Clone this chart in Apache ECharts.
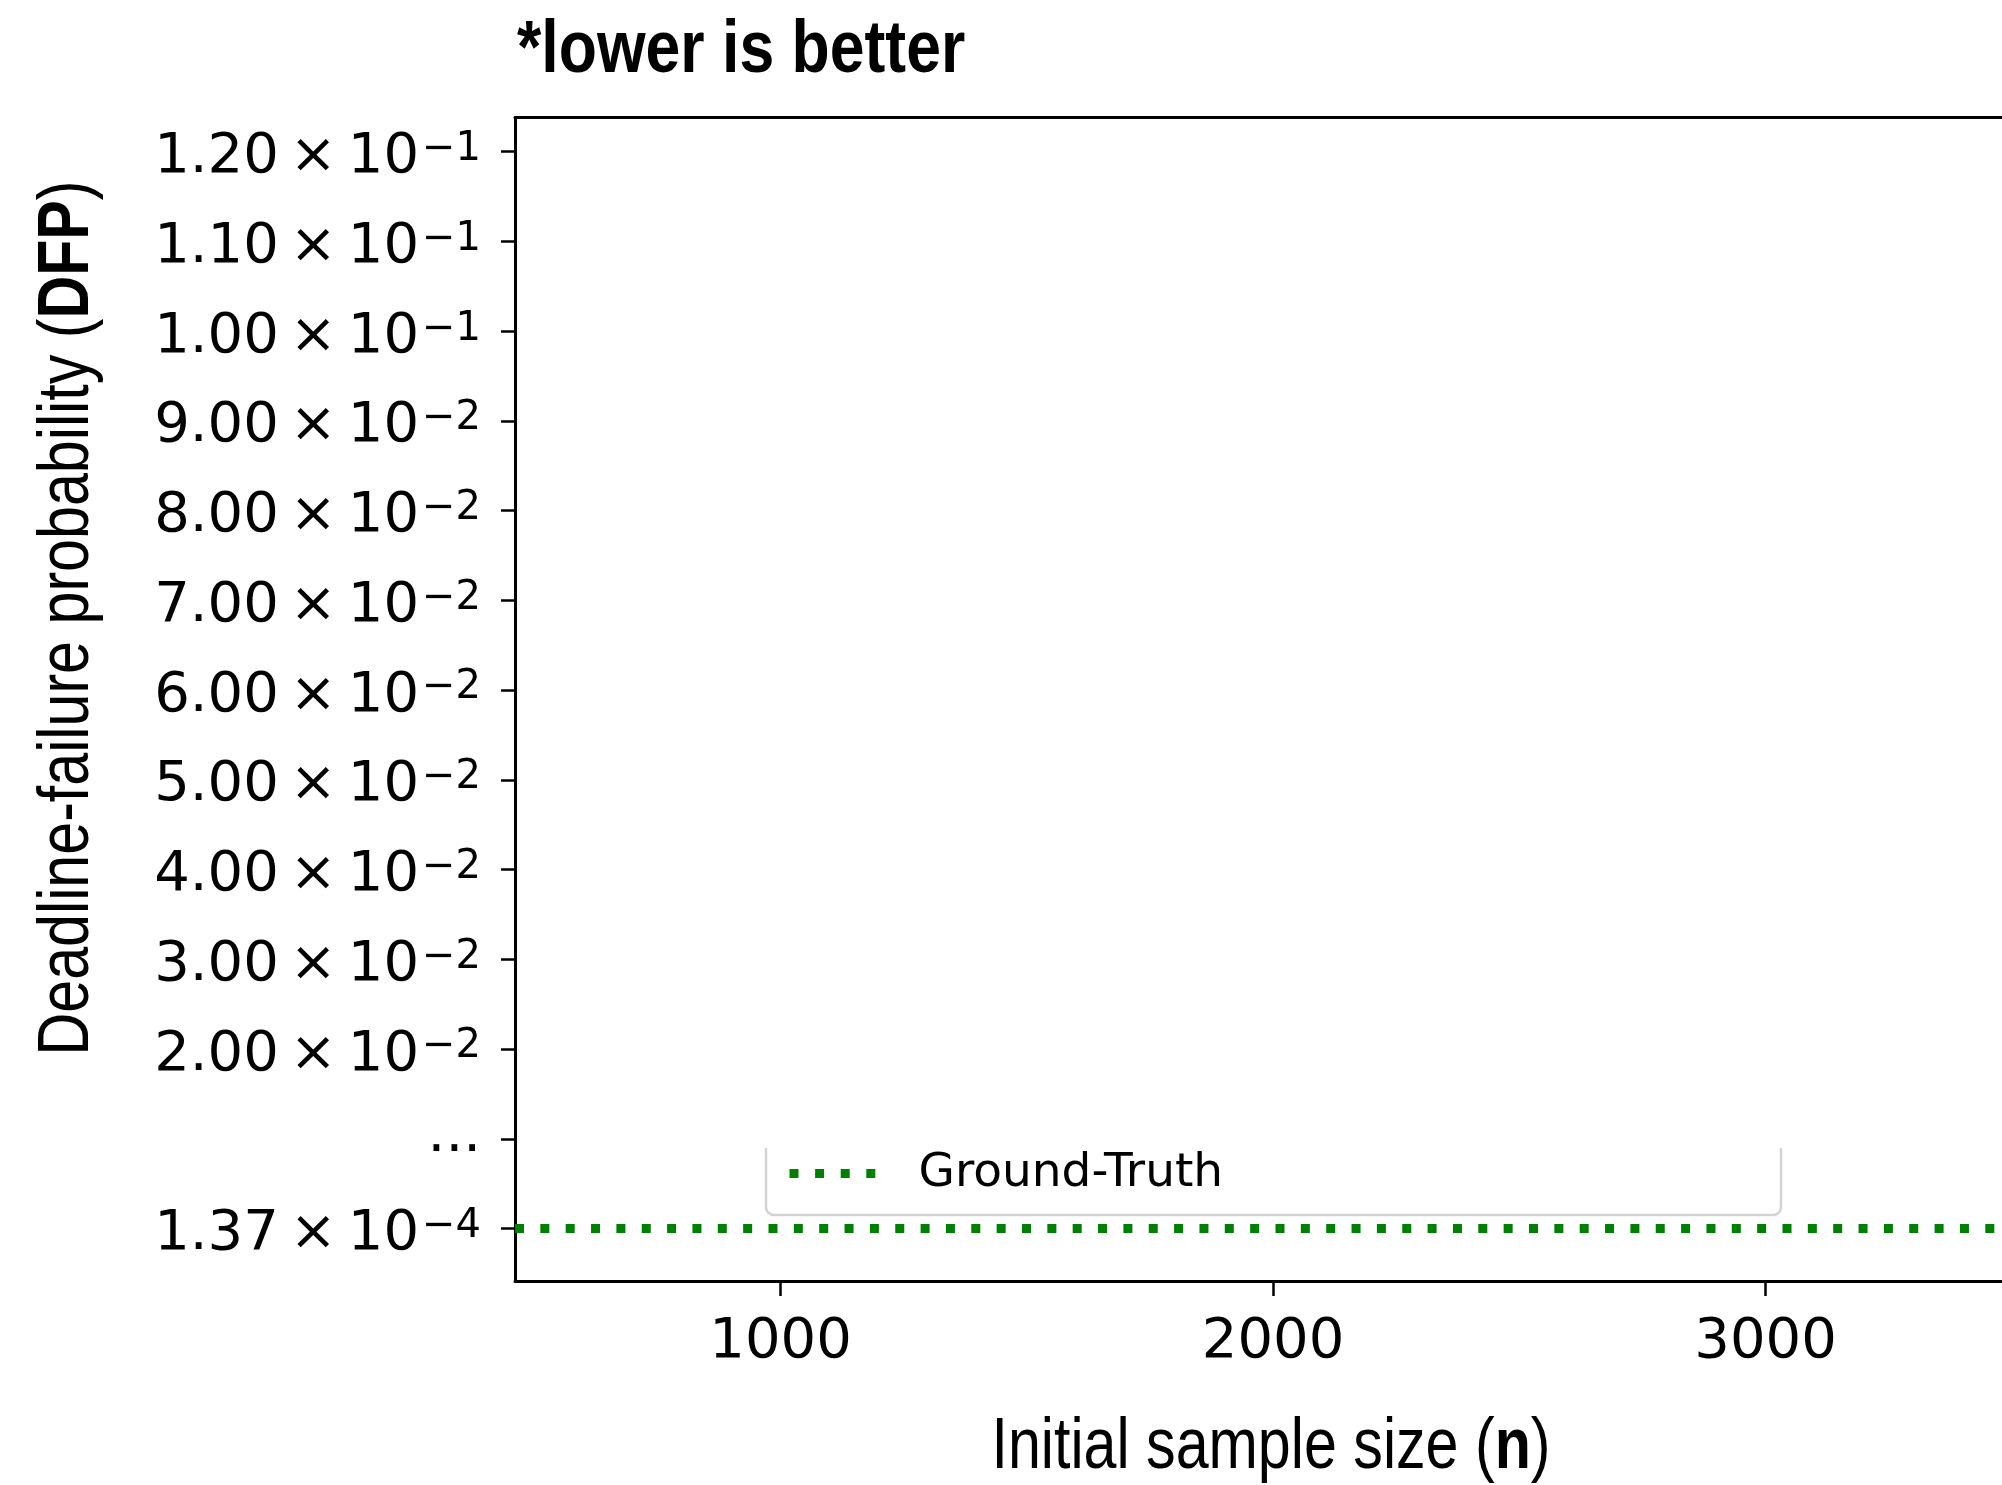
<!DOCTYPE html>
<html>
<head>
<meta charset="utf-8">
<title>Deadline-failure probability vs. initial sample size</title>
<script src="https://cdn.jsdelivr.net/npm/echarts@6/dist/echarts.min.js"></script>
<style>
  html, body { margin: 0; padding: 0; background: #fff; }
  #chart { width: 2002px; height: 1485px; }
</style>
</head>
<body>
<div id="chart"></div>
<script>
// ---- data -------------------------------------------------------------
// Tick values of the (broken) DFP axis, bottom to top; null marks the break.
const yTickValues = [1.37e-4, null, 0.02, 0.03, 0.04, 0.05, 0.06, 0.07, 0.08, 0.09, 0.10, 0.11, 0.12];
// Sample-size ticks on the x axis.
const xTickValues = [1000, 2000, 3000];
// Visible sample-size range.
const xRange = [460.8, 3480];
// Ground-truth deadline-failure probability.
const groundTruth = 1.37e-4;
const seriesNames = ['Ground-Truth'];

// ---- broken-axis mapping ---------------------------------------------
// Each tick occupies one evenly spaced slot; the upper segment is linear
// between 0.02 and 0.12, the lower segment holds the ground-truth level.
function toSlot(v) {
  if (v >= 0.02) return 2 + (v - 0.02) / 0.01;
  const i = yTickValues.indexOf(v);
  return i >= 0 ? i : 0;
}
const ySlots = yTickValues.map((v, i) => i);

function sciLabel(v) {
  const e = Math.floor(Math.log10(v) + 1e-12);
  const m = (v / Math.pow(10, e)).toFixed(2);
  return '{m|' + m + '}{x|\u00d7}{m|10}{s|\u2212' + Math.abs(e) + '}';
}

const tickFont = 'DejaVu Sans';
const titleFont = "'Liberation Sans', Arial, sans-serif";
const narrow = 0.822;   // horizontal squeeze for the condensed title lettering

const spine = { show: true, onZero: false, lineStyle: { color: '#000', width: 3 } };

const chart = echarts.init(document.getElementById('chart'), null, { renderer: 'canvas' });

chart.setOption({
  animation: false,
  backgroundColor: '#ffffff',
  grid: {
    left: 515,
    top: 117.5,
    right: 0,
    bottom: 204,
    show: false
  },
  legend: {
    data: seriesNames,
    left: 785,
    top: 1150,
    padding: 0,
    itemWidth: 86,
    itemHeight: 9,
    selectedMode: false,
    itemStyle: { opacity: 0 },
    lineStyle: { color: '#008000', width: 9, type: [9, 16.6], cap: 'butt' },
    textStyle: {
      fontFamily: tickFont,
      fontSize: 47,
      color: '#000',
      padding: [0, 0, 0, 38]
    }
  },
  xAxis: [{
    type: 'value',
    position: 'bottom',
    min: xRange[0],
    max: xRange[1],
    splitLine: { show: false },
    axisLine: spine,
    axisTick: {
      show: true, inside: false, length: 15,
      customValues: xTickValues,
      lineStyle: { color: '#000', width: 2.5 }
    },
    axisLabel: {
      customValues: xTickValues,
      margin: 33,
      fontFamily: tickFont,
      fontSize: 56,
      lineHeight: 56,
      color: '#000',
      formatter: v => String(v)
    }
  }, {
    // top spine
    type: 'value',
    position: 'top',
    min: xRange[0],
    max: xRange[1],
    splitLine: { show: false },
    axisLine: spine,
    axisTick: { show: false },
    axisLabel: { show: false }
  }],
  yAxis: {
    type: 'value',
    min: -0.585,
    max: 12.381,
    splitLine: { show: false },
    axisLine: spine,
    axisTick: {
      show: true, inside: false, length: 14,
      customValues: ySlots,
      lineStyle: { color: '#000', width: 2.5 }
    },
    axisLabel: {
      customValues: ySlots,
      margin: 34,
      padding: [12, 0, 0, 0],
      color: '#000',
      formatter: function (slot) {
        const v = yTickValues[Math.round(slot)];
        if (v === null || v === undefined) return '{d|...}';
        return sciLabel(v);
      },
      rich: {
        m: { fontFamily: tickFont, fontSize: 56, lineHeight: 56, color: '#000' },
        x: { fontFamily: tickFont, fontSize: 56, lineHeight: 56, color: '#000', padding: [0, 11, 0, 11] },
        s: { fontFamily: tickFont, fontSize: 40, lineHeight: 24, color: '#000', verticalAlign: 'top', padding: [0, 0, 0, 3] },
        d: { fontFamily: tickFont, fontSize: 56, lineHeight: 56, color: '#000', padding: [0, 0, 16, 0] }
      }
    }
  },
  series: [{
    name: seriesNames[0],
    type: 'line',
    data: [],
    symbol: 'none',
    color: '#008000',
    lineStyle: { color: '#008000', width: 9, type: [9, 16.35], cap: 'butt' },
    markLine: {
      silent: true,
      symbol: ['none', 'none'],
      label: { show: false },
      lineStyle: { color: '#008000', width: 9, type: [9, 16.35], cap: 'butt' },
      emphasis: { disabled: true },
      data: [{ yAxis: toSlot(groundTruth) }]
    }
  }],
  graphic: [
    // legend frame, open at the top
    { type: 'line', silent: true, shape: { x1: 766, y1: 1148, x2: 766, y2: 1207 },
      style: { stroke: '#d3d3d3', lineWidth: 2.5 } },
    { type: 'arc', silent: true, shape: { cx: 774, cy: 1207, r: 8, startAngle: Math.PI / 2, endAngle: Math.PI },
      style: { stroke: '#d3d3d3', lineWidth: 2.5, fill: null } },
    { type: 'line', silent: true, shape: { x1: 774, y1: 1215, x2: 1773, y2: 1215 },
      style: { stroke: '#d3d3d3', lineWidth: 2.5 } },
    { type: 'arc', silent: true, shape: { cx: 1773, cy: 1207, r: 8, startAngle: 0, endAngle: Math.PI / 2 },
      style: { stroke: '#d3d3d3', lineWidth: 2.5, fill: null } },
    { type: 'line', silent: true, shape: { x1: 1781, y1: 1148, x2: 1781, y2: 1207 },
      style: { stroke: '#d3d3d3', lineWidth: 2.5 } },
    {
      // headline
      type: 'text',
      x: 517,
      y: 51.5,
      scaleX: 0.845,
      silent: true,
      style: {
        text: '*lower is better',
        font: 'bold 74px ' + titleFont,
        fill: '#000',
        align: 'left',
        verticalAlign: 'middle'
      }
    },
    {
      // y-axis title
      type: 'text',
      x: 68,
      y: 618,
      rotation: Math.PI / 2,
      scaleX: narrow,
      silent: true,
      style: {
        text: '{r|Deadline-failure probability (}{b|DFP}{r|)}',
        align: 'center',
        verticalAlign: 'middle',
        rich: {
          r: { fontFamily: titleFont, fontSize: 72, lineHeight: 72, fill: '#000' },
          b: { fontFamily: titleFont, fontSize: 72, lineHeight: 72, fontWeight: 'bold', fill: '#000' }
        }
      }
    },
    {
      // x-axis title
      type: 'text',
      x: 1271,
      y: 1448,
      scaleX: narrow,
      silent: true,
      style: {
        text: '{r|Initial sample size (}{b|n}{r|)}',
        align: 'center',
        verticalAlign: 'middle',
        rich: {
          r: { fontFamily: titleFont, fontSize: 72, lineHeight: 72, fill: '#000' },
          b: { fontFamily: titleFont, fontSize: 72, lineHeight: 72, fontWeight: 'bold', fill: '#000' }
        }
      }
    }
  ]
});
</script>
</body>
</html>
